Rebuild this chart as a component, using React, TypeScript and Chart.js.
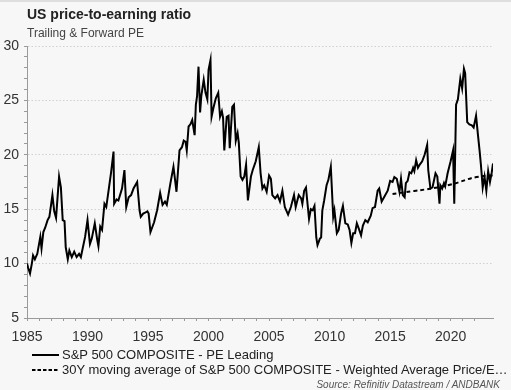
import React, { useEffect, useRef } from "react";
import { Chart, registerables } from "chart.js";

Chart.register(...registerables);

// ---------- data ----------
const PE_YEARS: number[] = [
  1985.0, 1985.1, 1985.25, 1985.4, 1985.5, 1985.65, 1985.85, 1986.1, 1986.2, 1986.35,
  1986.5, 1986.7, 1986.85, 1987.1, 1987.25, 1987.4, 1987.65, 1987.8, 1987.95, 1988.1,
  1988.2, 1988.37, 1988.5, 1988.7, 1988.9, 1989.1, 1989.3, 1989.45, 1989.8, 1990.0,
  1990.2, 1990.35, 1990.6, 1990.8, 1990.9, 1991.05, 1991.2, 1991.4, 1991.55, 1991.75,
  1991.95, 1992.15, 1992.2, 1992.4, 1992.55, 1992.85, 1993.05, 1993.2, 1993.4, 1993.6,
  1993.8, 1994.1, 1994.3, 1994.4, 1994.6, 1994.8, 1994.95, 1995.05, 1995.2, 1995.5,
  1995.75, 1996.0, 1996.2, 1996.4, 1996.55, 1996.85, 1997.1, 1997.2, 1997.35, 1997.6,
  1997.8, 1997.95, 1998.1, 1998.2, 1998.35, 1998.5, 1998.65, 1998.85, 1998.95, 1999.05,
  1999.17, 1999.3, 1999.4, 1999.6, 1999.75, 1999.9, 2000.0, 2000.16, 2000.25, 2000.4,
  2000.6, 2000.8, 2000.95, 2001.1, 2001.2, 2001.3, 2001.5, 2001.65, 2001.75, 2001.96,
  2002.1, 2002.25, 2002.4, 2002.5, 2002.65, 2002.8, 2002.95, 2003.1, 2003.25, 2003.5,
  2003.65, 2003.9, 2004.15, 2004.3, 2004.45, 2004.6, 2004.8, 2005.0, 2005.15, 2005.27,
  2005.5, 2005.7, 2005.9, 2006.1, 2006.3, 2006.57, 2006.8, 2007.06, 2007.2, 2007.45,
  2007.65, 2007.75, 2007.9, 2008.05, 2008.15, 2008.3, 2008.45, 2008.6, 2008.75, 2008.9,
  2009.0, 2009.2, 2009.3, 2009.4, 2009.55, 2009.75, 2009.9, 2010.1, 2010.3, 2010.4,
  2010.6, 2010.75, 2010.95, 2011.1, 2011.3, 2011.5, 2011.65, 2011.8, 2011.95, 2012.1,
  2012.25, 2012.45, 2012.6, 2012.75, 2012.95, 2013.15, 2013.4, 2013.55, 2013.75, 2013.97,
  2014.1, 2014.3, 2014.5, 2014.8, 2015.0, 2015.2, 2015.35, 2015.55, 2015.77, 2015.9,
  2016.05, 2016.2, 2016.3, 2016.45, 2016.6, 2016.75, 2016.9, 2017.0, 2017.15, 2017.3,
  2017.45, 2017.65, 2017.85, 2018.06, 2018.15, 2018.33, 2018.5, 2018.75, 2018.9, 2019.08,
  2019.15, 2019.3, 2019.45, 2019.55, 2019.75, 2020.0, 2020.2, 2020.3, 2020.45, 2020.6,
  2020.8, 2020.95, 2021.1, 2021.2, 2021.37, 2021.55, 2021.75, 2021.9, 2022.1, 2022.25,
  2022.4, 2022.5, 2022.65, 2022.8, 2022.95, 2023.1, 2023.25, 2023.4, 2023.5,
];

const PE_LEADING: number[] = [
  10.0, 9.6, 9.1, 10.0, 10.75, 10.4, 10.9, 12.45, 11.4, 12.9,
  13.3, 14.0, 14.3, 16.3, 14.8, 14.2, 18.0, 17.0, 14.0, 13.9,
  11.5, 10.4, 11.2, 10.6, 11.1, 10.6, 10.9, 10.6, 12.45, 14.0,
  11.8, 12.3, 13.7, 12.2, 11.6, 13.4, 13.1, 15.5, 15.2, 16.8,
  18.4, 20.3, 15.5, 15.9, 15.8, 16.9, 18.6, 15.2, 16.1, 16.3,
  16.9, 17.5, 14.9, 14.3, 14.6, 14.7, 14.8, 14.6, 12.9, 13.8,
  14.9, 16.5, 15.4, 15.7, 15.4, 17.4, 18.9, 18.0, 16.6, 20.4,
  20.7, 21.3, 21.2, 20.4, 22.6, 22.8, 23.2, 21.8, 24.6, 25.4,
  28.1, 23.9, 25.4, 26.9, 25.7, 25.1, 27.8, 28.7, 23.5, 24.3,
  25.2, 25.7, 23.5, 24.0, 23.4, 20.4, 23.5, 23.6, 20.6, 24.4,
  24.6, 21.3, 22.0, 21.1, 18.0, 17.7, 18.0, 19.1, 15.8, 18.0,
  18.6, 19.4, 20.7, 18.3, 16.9, 17.2, 16.6, 18.1, 17.8, 16.3,
  16.0, 16.3, 15.7, 16.7, 15.2, 14.5, 15.2, 16.3, 15.2, 16.3,
  16.0, 15.5, 16.7, 17.0, 15.8, 14.1, 15.0, 14.9, 15.3, 12.4,
  11.7, 12.3, 12.4, 14.9, 15.8, 17.2, 17.7, 18.9, 14.3, 14.9,
  12.8, 13.1, 14.6, 15.3, 13.7, 13.6, 13.1, 11.9, 12.8, 12.8,
  13.7, 13.1, 12.6, 13.5, 14.0, 13.8, 14.4, 15.1, 15.2, 16.7,
  16.9, 15.7, 16.1, 16.7, 17.6, 17.5, 17.95, 17.8, 16.6, 17.8,
  16.3, 16.1, 17.4, 17.6, 18.4, 18.3, 18.8, 18.5, 19.5, 18.8,
  19.1, 19.4, 20.0, 20.9, 18.6, 16.9, 17.0, 18.3, 18.0, 15.5,
  17.2, 16.9, 17.4, 17.1, 18.3, 19.4, 20.4, 15.5, 24.6, 25.1,
  27.0, 26.1, 27.9, 27.5, 23.0, 22.8, 22.7, 22.5, 23.6, 21.9,
  20.3, 19.1, 17.0, 18.0, 16.7, 18.5, 17.5, 18.4, 19.2,
];

const MA_YEARS: number[] = [2015.2, 2016.5, 2017.5, 2018.4, 2019.4, 2020.3, 2021.0, 2021.7, 2022.7, 2023.5];
const PE_MA30: number[] = [16.4, 16.6, 16.75, 16.9, 17.1, 17.35, 17.6, 17.85, 18.05, 18.1];

const X_MIN = 1985;
const X_MAX = 2023.5;
const Y_MIN = 5;
const Y_MAX = 30;

const TITLE = "US price-to-earning ratio";
const SUBTITLE = "Trailing & Forward PE";
const LEGEND_1 = "S&P 500 COMPOSITE - PE Leading";
const LEGEND_2 = "30Y moving average of S&P 500 COMPOSITE - Weighted Average Price/Earnings";
const SOURCE = "Source: Refinitiv Datastream / ANDBANK";

const FONT = '"Liberation Sans", Arial, Helvetica, sans-serif';

export default function App() {
  const ref = useRef<HTMLCanvasElement | null>(null);

  useEffect(() => {
    if (!ref.current) return;
    const chart = new Chart(ref.current, {
      type: "line",
      data: {
        datasets: [
          {
            label: LEGEND_1,
            data: PE_YEARS.map((x, i) => ({ x, y: PE_LEADING[i] })),
            borderColor: "#000",
            borderWidth: 2,
            pointRadius: 0,
            tension: 0,
            fill: false,
          },
          {
            label: LEGEND_2,
            data: MA_YEARS.map((x, i) => ({ x, y: PE_MA30[i] })),
            borderColor: "#000",
            borderWidth: 2,
            borderDash: [4, 3],
            pointRadius: 0,
            tension: 0.3,
            fill: false,
          },
        ],
      },
      options: {
        responsive: false,
        animation: false,
        devicePixelRatio: 1,
        layout: { padding: { left: 0, top: 46, right: 18, bottom: 0 } },
        plugins: { legend: { display: false }, tooltip: { enabled: false }, title: { display: false } },
        scales: {
          x: {
            type: "linear",
            min: X_MIN,
            max: X_MAX,
            afterFit: (s: any) => {
              s.height = 27;
            },
            afterBuildTicks: (s: any) => {
              s.ticks = s.ticks.filter((t: any) => Number.isInteger(t.value));
            },
            ticks: {
              stepSize: 1,
              autoSkip: false,
              maxRotation: 0,
              padding: 8,
              color: "#333",
              font: { family: FONT, size: 14 },
              callback: (v: any) => (Number(v) % 5 === 0 ? String(v) : ""),
            },
            grid: {
              drawOnChartArea: false,
              drawTicks: true,
              tickLength: 3,
              tickColor: "#9a9a9a",
              color: "#9a9a9a",
            },
            border: { display: true, color: "#9a9a9a", width: 1 },
          },
          y: {
            type: "linear",
            min: Y_MIN,
            max: Y_MAX,
            afterFit: (s: any) => {
              s.width = 27;
            },
            ticks: {
              stepSize: 1,
              autoSkip: false,
              padding: 5,
              color: "#333",
              font: { family: FONT, size: 14 },
              callback: (v: any) => (Number(v) % 5 === 0 ? String(v) : ""),
            },
            grid: {
              drawOnChartArea: true,
              drawTicks: true,
              tickLength: 3,
              tickColor: "#9a9a9a",
              color: (ctx: any) =>
                ctx.tick && ctx.tick.value % 5 === 0 && ctx.tick.value !== Y_MIN ? "#d0d0d0" : "rgba(0,0,0,0)",
            },
            border: { display: true, color: "#9a9a9a", width: 1, dash: [1.5, 2] },
          },
        },
      },
    });
    return () => chart.destroy();
  }, []);

  return (
    <div
      style={{
        position: "relative",
        width: 511,
        height: 390,
        background: "#f7f7f7",
        overflow: "hidden",
        fontFamily: FONT,
      }}
    >
      <style>{`body{margin:0;background:#f7f7f7}`}</style>
      <div style={{ position: "absolute", left: 0, top: 0, width: 511, height: 2, background: "#dedede" }} />
      <canvas
        ref={ref}
        width={511}
        height={345}
        style={{ position: "absolute", left: 0, top: 0, width: 511, height: 345 }}
      />
      <div
        style={{
          position: "absolute",
          left: 27,
          top: 7,
          fontSize: 14,
          lineHeight: "14px",
          fontWeight: "bold",
          color: "#222",
          whiteSpace: "nowrap",
        }}
      >
        {TITLE}
      </div>
      <div
        style={{
          position: "absolute",
          left: 27,
          top: 27,
          fontSize: 12,
          lineHeight: "12px",
          color: "#444",
          whiteSpace: "nowrap",
        }}
      >
        {SUBTITLE}
      </div>
      <svg style={{ position: "absolute", left: 0, top: 0 }} width={511} height={390}>
        <line x1={32} y1={355} x2={59} y2={355} stroke="#000" strokeWidth={2} />
        <line x1={32} y1={370} x2={59} y2={370} stroke="#000" strokeWidth={2} strokeDasharray="3.5 2" />
      </svg>
      <div
        style={{
          position: "absolute",
          left: 62,
          top: 348,
          fontSize: 13,
          lineHeight: "14px",
          color: "#222",
          whiteSpace: "nowrap",
        }}
      >
        {LEGEND_1}
      </div>
      <div
        style={{
          position: "absolute",
          left: 62,
          top: 363,
          width: 449,
          fontSize: 13,
          lineHeight: "14px",
          color: "#222",
          whiteSpace: "nowrap",
          overflow: "hidden",
          textOverflow: "ellipsis",
        }}
      >
        {LEGEND_2}
      </div>
      <div
        style={{
          position: "absolute",
          right: 11,
          top: 379,
          fontSize: 10,
          lineHeight: "12px",
          fontStyle: "italic",
          color: "#555",
          whiteSpace: "nowrap",
        }}
      >
        {SOURCE}
      </div>
    </div>
  );
}
